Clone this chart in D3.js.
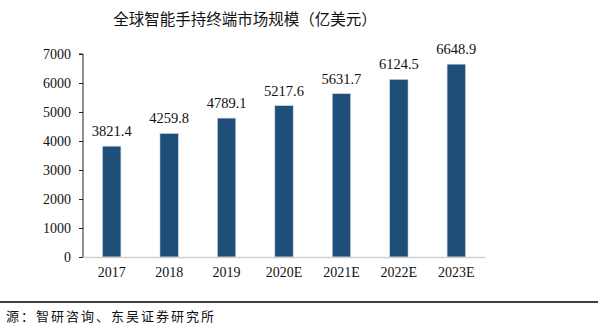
<!DOCTYPE html>
<html><head><meta charset="utf-8">
<script src="https://cdn.jsdelivr.net/npm/d3@7"></script>
<style>body{margin:0;background:#fff}svg{display:block}</style>
</head><body>
<script>
const categories = ["2017","2018","2019","2020E","2021E","2022E","2023E"];
const values = [3821.4,4259.8,4789.1,5217.6,5631.7,6124.5,6648.9];
const yTicks = [0,1000,2000,3000,4000,5000,6000,7000];
const title = "全球智能手持终端市场规模（亿美元）";
const source = "源：智研咨询、东吴证券研究所";

const W=598,H=324;
const svg=d3.select("body").append("svg").attr("width",W).attr("height",H);
const x=d3.scaleBand().domain(categories).range([83,485]).paddingInner(0.68).paddingOuter(0.34);
const y=d3.scaleLinear().domain([0,7000]).range([257,54]);
const serif="'Liberation Serif','Times New Roman',serif";
const cjk="'Noto Sans CJK SC',sans-serif";

svg.append("text").attr("x",245).attr("y",25).attr("text-anchor","middle")
  .style("font-family",cjk).style("font-size","15.5px").attr("fill","#111").text(title);

const ya=svg.append("g").attr("transform","translate(83,0)")
  .call(d3.axisLeft(y).tickValues(yTicks).tickSize(4).tickPadding(8).tickFormat(d3.format("d")));
ya.select(".domain").attr("stroke","#222").attr("d","M-4,54H0V257");
ya.selectAll(".tick line").attr("stroke","#222");
ya.selectAll("text").style("font-family",serif).style("font-size","14px").attr("fill","#111");

svg.selectAll("rect.bar").data(values).enter().append("rect").attr("class","bar")
  .attr("x",(d,i)=>x(categories[i])).attr("width",x.bandwidth())
  .attr("y",d=>y(d)).attr("height",d=>y(0)-y(d))
  .attr("fill","#1f4e79").attr("stroke","#c9d6e6").attr("stroke-width",0.6);

const xa=svg.append("g").attr("transform","translate(0,257)")
  .call(d3.axisBottom(x).tickSize(0).tickPadding(10));
xa.select(".domain").attr("stroke","#d0d0d0").attr("stroke-width",1.5);
xa.selectAll("text").style("font-family",serif).style("font-size","14px").attr("fill","#111");

svg.selectAll("text.val").data(values).enter().append("text").attr("class","val")
  .attr("x",(d,i)=>x(categories[i])+x.bandwidth()/2).attr("y",d=>y(d)-10)
  .attr("text-anchor","middle").style("font-family",serif).style("font-size","14.5px")
  .attr("fill","#111").text(d=>d.toFixed(1));

svg.append("line").attr("x1",0).attr("x2",W).attr("y1",302).attr("y2",302)
  .attr("stroke","#000").attr("stroke-width",1.5);
svg.append("text").attr("x",216).attr("y",321).attr("text-anchor","end")
  .style("font-family",cjk).style("font-size","13px").style("letter-spacing","2px")
  .attr("fill","#111").text(source);
</script>
</body></html>
